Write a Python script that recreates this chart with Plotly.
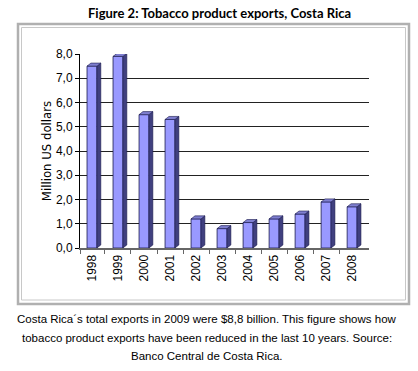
import plotly.graph_objects as go

years = ["1998", "1999", "2000", "2001", "2002", "2003", "2004", "2005", "2006", "2007", "2008"]
exports = [7.5, 7.9, 5.5, 5.3, 1.2, 0.8, 1.05, 1.2, 1.4, 1.9, 1.7]
y_ticks = [0, 1, 2, 3, 4, 5, 6, 7, 8]

title_text = "Figure 2: Tobacco product exports, Costa Rica"
y_title = "Million US dollars"
caption_lines = [
    "Costa Rica´s total exports in 2009 were $8,8 billion. This figure shows how",
    "tobacco product exports have been reduced in the last 10 years. Source:",
    "Banco Central de Costa Rica.",
]

W, H = 418, 371
# plot area in window pixel coordinates
L, R, T, B = 80, 369, 54, 248
X0, X1 = -0.46, 10.65

def px_x(p):
    return (p - L) / (R - L)

def px_y(p):
    return (B - p) / (B - T)

xs = list(range(len(years)))
bw = 0.38
dx = 0.15
dy = 0.125

side_x, side_y, top_x, top_y = [], [], [], []
for x, v in zip(xs, exports):
    xr = x + bw / 2
    xl = x - bw / 2
    side_x += [xr, xr, xr + dx, xr + dx, xr, None]
    side_y += [0, v, v + dy, dy, 0, None]
    top_x += [xl, xl + dx, xr + dx, xr, xl, None]
    top_y += [v, v + dy, v + dy, v, v, None]

fig = go.Figure()
fig.add_trace(go.Bar(x=xs, y=exports, width=bw,
                     marker=dict(color="#9999FF", line=dict(color="#1a1a4d", width=0.8)),
                     hoverinfo="skip", showlegend=False))
fig.add_trace(go.Scatter(x=side_x, y=side_y, fill="toself", mode="lines",
                         fillcolor="#40407f", line=dict(color="#1a1a4d", width=0.6),
                         hoverinfo="skip", showlegend=False))
fig.add_trace(go.Scatter(x=top_x, y=top_y, fill="toself", mode="lines",
                         fillcolor="#7f7fd0", line=dict(color="#1a1a4d", width=0.6),
                         hoverinfo="skip", showlegend=False))

fig.update_layout(
    width=W, height=H,
    margin=dict(l=L, r=W - R, t=T, b=H - B, pad=0),
    paper_bgcolor="white", plot_bgcolor="white",
    separators=", ",
    showlegend=False,
    font=dict(family="Liberation Sans, Arial, sans-serif", color="#000"),
)
fig.update_xaxes(
    range=[X0, X1], tickvals=xs, ticktext=years, tickangle=-90,
    ticks="", showgrid=False, zeroline=False,
    showline=True, linecolor="#666", linewidth=2,
    tickfont=dict(size=12, family="Liberation Sans, Arial, sans-serif"),
    minor=dict(tickvals=[x + 0.5 for x in xs[:-1]] + [X0 + 0.01], ticks="outside",
               ticklen=4, tickcolor="#666", showgrid=False),
)
fig.update_yaxes(
    range=[0, 8], tickvals=y_ticks, tickformat=".1f",
    ticks="outside", ticklen=4, tickcolor="#000",
    showline=True, linecolor="#000", linewidth=1,
    showgrid=True, gridcolor="#222", gridwidth=1, zeroline=False,
    tickfont=dict(size=12, family="Liberation Sans, Arial, sans-serif"),
    title=dict(text=y_title, standoff=1,
               font=dict(size=13, family="DejaVu Sans Condensed, Liberation Sans Narrow, sans-serif")),
)

# double frame around the chart
fig.add_shape(type="rect", xref="paper", yref="paper",
              x0=px_x(18), x1=px_x(409), y0=px_y(304), y1=px_y(24),
              line=dict(color="#b0b0b0", width=2.5), layer="below")
fig.add_shape(type="rect", xref="paper", yref="paper",
              x0=px_x(21.5), x1=px_x(405.5), y0=px_y(300), y1=px_y(27.5),
              line=dict(color="#c8c8c8", width=1), layer="below")

fig.add_annotation(text="<b>" + title_text + "</b>", xref="paper", yref="paper",
                   x=px_x(219), y=px_y(13), xanchor="center", yanchor="middle",
                   showarrow=False,
                   font=dict(size=13, family="Lato, sans-serif", color="#000"))
for py, line in zip([319, 338, 356], caption_lines):
    fig.add_annotation(text=line, xref="paper", yref="paper",
                       x=px_x(207), y=px_y(py), xanchor="center", yanchor="middle",
                       showarrow=False,
                       font=dict(size=11.5, family="Liberation Sans, Arial, sans-serif", color="#000"))

fig.write_html("out.html", config={"displayModeBar": False},
               post_script="document.body.style.margin='0';")
